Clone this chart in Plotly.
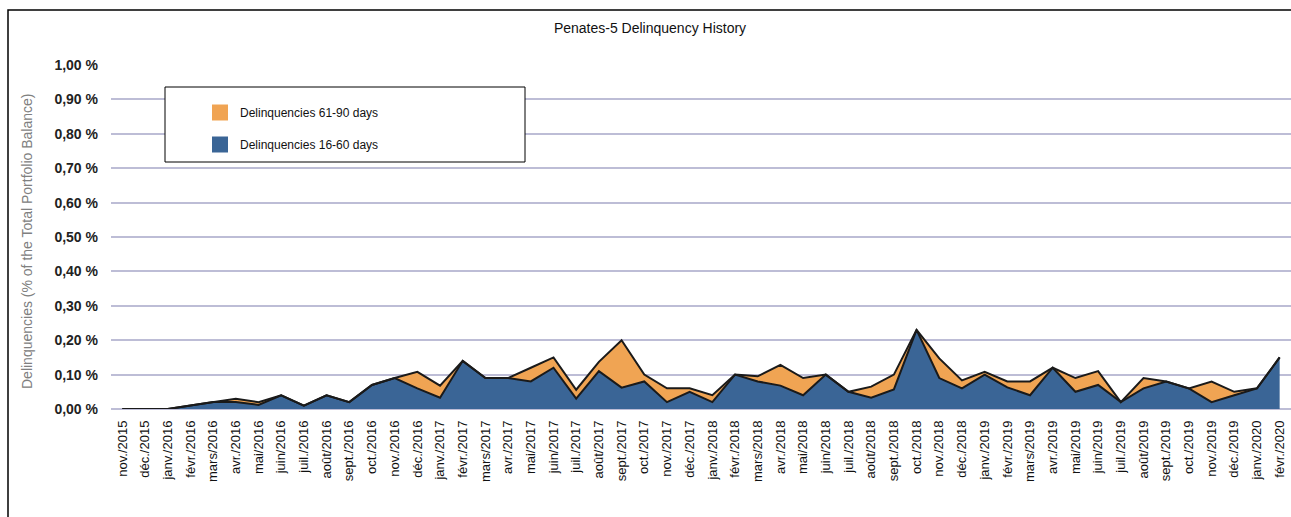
import plotly.graph_objects as go

months = ["nov./2015", "déc./2015", "janv./2016", "févr./2016", "mars/2016", "avr./2016",
          "mai/2016", "juin/2016", "juil./2016", "août/2016", "sept./2016", "oct./2016",
          "nov./2016", "déc./2016", "janv./2017", "févr./2017", "mars/2017", "avr./2017",
          "mai/2017", "juin/2017", "juil./2017", "août/2017", "sept./2017", "oct./2017",
          "nov./2017", "déc./2017", "janv./2018", "févr./2018", "mars/2018", "avr./2018",
          "mai/2018", "juin/2018", "juil./2018", "août/2018", "sept./2018", "oct./2018",
          "nov./2018", "déc./2018", "janv./2019", "févr./2019", "mars/2019", "avr./2019",
          "mai/2019", "juin/2019", "juil./2019", "août/2019", "sept./2019", "oct./2019",
          "nov./2019", "déc./2019", "janv./2020", "févr./2020"]

# Delinquencies 16-60 days (% of total portfolio balance)
d16_60 = [0.00, 0.00, 0.00, 0.01, 0.02, 0.02, 0.012, 0.04, 0.01, 0.04, 0.02, 0.07,
          0.09, 0.06, 0.033, 0.14, 0.09, 0.09, 0.08, 0.12, 0.03, 0.11, 0.062, 0.08,
          0.02, 0.05, 0.02, 0.10, 0.08, 0.068, 0.04, 0.10, 0.05, 0.033, 0.057, 0.23,
          0.09, 0.06, 0.10, 0.063, 0.04, 0.12, 0.05, 0.07, 0.02, 0.06, 0.08, 0.06,
          0.02, 0.04, 0.06, 0.15]

# Total (16-60 + 61-90)
total = [0.00, 0.00, 0.00, 0.01, 0.02, 0.03, 0.02, 0.04, 0.01, 0.04, 0.02, 0.07,
         0.09, 0.108, 0.068, 0.14, 0.09, 0.09, 0.12, 0.15, 0.056, 0.137, 0.20, 0.10,
         0.06, 0.06, 0.04, 0.10, 0.095, 0.128, 0.09, 0.10, 0.05, 0.065, 0.10, 0.23,
         0.147, 0.083, 0.108, 0.08, 0.08, 0.12, 0.09, 0.11, 0.02, 0.09, 0.08, 0.06,
         0.08, 0.05, 0.06, 0.15]

d61_90 = [round(t - b, 4) for t, b in zip(total, d16_60)]

y_ticks = [0.0, 0.1, 0.2, 0.3, 0.4, 0.5, 0.6, 0.7, 0.8, 0.9, 1.0]
y_tick_text = ["0,00 %", "0,10 %", "0,20 %", "0,30 %", "0,40 %", "0,50 %",
               "0,60 %", "0,70 %", "0,80 %", "0,90 %", "1,00 %"]

BLUE = "#3A6596"
ORANGE = "#F0A453"
GRID = "#BDBDD6"

fig = go.Figure()
fig.add_trace(go.Scatter(
    x=months, y=d16_60, name="Delinquencies 16-60 days",
    stackgroup="one", mode="lines", showlegend=False,
    line=dict(color="#1a1a1a", width=2), fillcolor=BLUE,
))
fig.add_trace(go.Scatter(
    x=months, y=d61_90, name="Delinquencies 61-90 days",
    stackgroup="one", mode="lines", showlegend=False,
    line=dict(color="#1a1a1a", width=2), fillcolor=ORANGE,
))
# legend entries (square swatches)
fig.add_trace(go.Scatter(
    x=[None], y=[None], mode="markers", name="Delinquencies 61-90 days",
    marker=dict(symbol="square", size=20, color=ORANGE, line=dict(width=0)),
    legendgroup="a",
))
fig.add_trace(go.Scatter(
    x=[None], y=[None], mode="markers", name="Delinquencies 16-60 days",
    marker=dict(symbol="square", size=20, color=BLUE, line=dict(width=0)),
    legendgroup="b",
))

W, H = 1291, 517
L, R, T, B = 111, 0, 65, 108
pw = W - L - R
ph = H - T - B

def px_x(x):
    return (x - L) / pw

def px_y(y):
    return (H - B - y) / ph

shapes = [
    # outer frame
    dict(type="rect", xref="paper", yref="paper",
         x0=px_x(8), x1=px_x(1300), y0=px_y(530), y1=px_y(10),
         line=dict(color="black", width=1.5), fillcolor="rgba(0,0,0,0)", layer="below"),
    # legend box
    dict(type="rect", xref="paper", yref="paper",
         x0=px_x(165), x1=px_x(525), y0=px_y(162), y1=px_y(87),
         line=dict(color="black", width=1), fillcolor="white", layer="above"),
]

annotations = [
    dict(text="Delinquencies (% of the Total Portfolio Balance)", textangle=-90,
         xref="paper", yref="paper", x=px_x(27), y=px_y(242),
         xanchor="center", yanchor="middle", showarrow=False,
         font=dict(size=14, color="#808080")),
]

fig.update_layout(
    width=W, height=H,
    margin=dict(l=L, r=R, t=T, b=B),
    paper_bgcolor="white", plot_bgcolor="white",
    font=dict(family="Liberation Sans, Arial, sans-serif", color="#111"),
    title=dict(text="Penates-5 Delinquency History", x=650 / W, xanchor="center",
               y=1 - 28 / H, yanchor="middle", font=dict(size=14, color="#111")),
    showlegend=True,
    legend=dict(x=px_x(200), y=px_y(98), xanchor="left", yanchor="top",
                bgcolor="rgba(0,0,0,0)", borderwidth=0, traceorder="grouped",
                font=dict(size=12, color="#111"), tracegroupgap=13),
    xaxis=dict(type="category", range=[-0.5, len(months) - 0.5],
               tickangle=-90, tickfont=dict(size=13, color="#111"),
               ticklabelstandoff=8,
               showgrid=False, showline=False, ticks="", zeroline=False),
    yaxis=dict(range=[0, 1.0], tickvals=y_ticks, ticktext=y_tick_text,
               tickfont=dict(size=14, color="#222", family="Liberation Sans, Arial", weight="bold"),
               ticklabelstandoff=12,
               showgrid=True, gridcolor=GRID, gridwidth=2, zeroline=True,
               zerolinecolor=GRID, zerolinewidth=2, showline=False, ticks=""),
    annotations=annotations,
    shapes=shapes,
)

fig.write_html("out.html", config={"displayModeBar": False},
               post_script="document.body.style.margin='0';document.body.style.overflow='hidden';")
